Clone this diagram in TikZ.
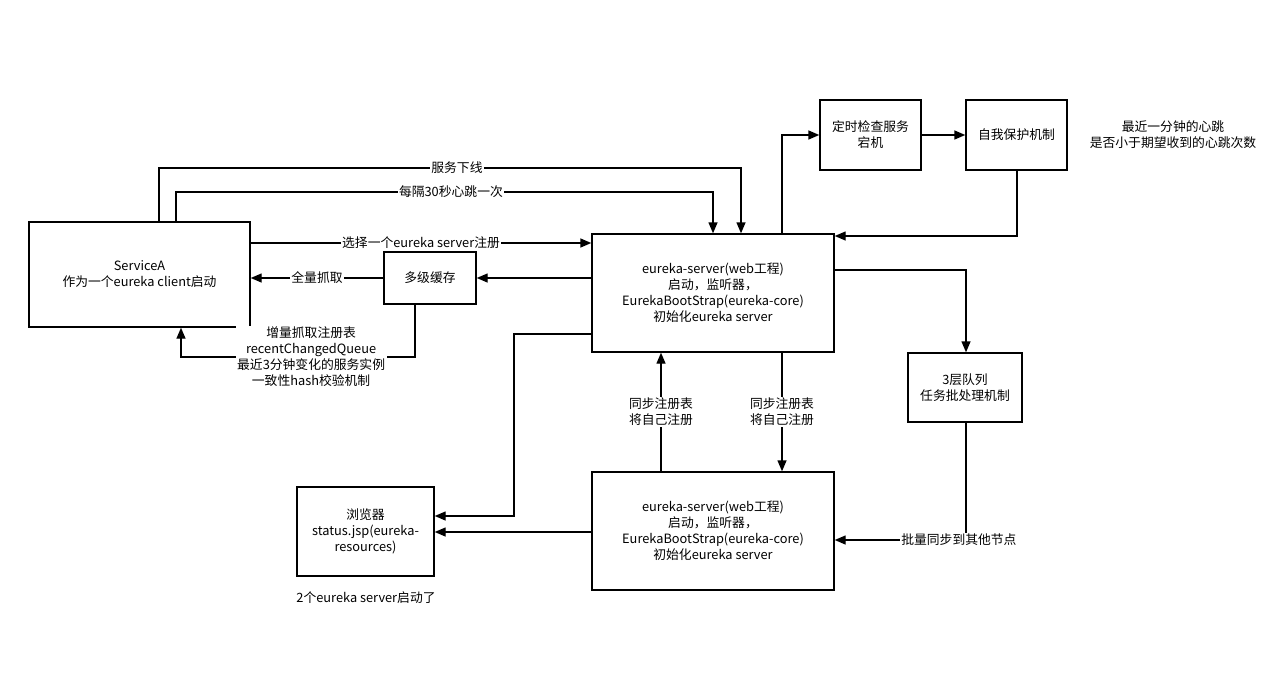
\documentclass[tikz,border=0pt]{standalone}
\usepackage{fontspec}
\setmainfont{Noto Sans CJK SC}
\usetikzlibrary{arrows.meta}
\begin{document}
\begin{tikzpicture}[x=1pt,y=-1pt,
  txt/.style={font={\fontsize{12.8}{16}\selectfont}, align=center},
  box/.style={txt, draw, line width=1.4pt, inner sep=0pt},
  conn/.style={draw, line width=1.4pt, -{Triangle[length=11pt,width=9pt]}},
  lbl/.style={txt, fill=white, inner sep=1.5pt}
]
\useasboundingbox (0,0) rectangle (1274,693);
\fill[white] (0,0) rectangle (1274,693);

\node[box, minimum width=221pt, minimum height=105pt] (sa) at (139.5,274.5) {ServiceA\\作为一个eureka client启动};
\node[box, minimum width=92pt, minimum height=52pt] (cache) at (430,278) {多级缓存};
\node[box, minimum width=242pt, minimum height=118pt] (es1) at (713,293) {eureka-server(web工程)\\启动，监听器，\\EurekaBootStrap(eureka-core)\\初始化eureka server};
\node[box, minimum width=101pt, minimum height=70pt] (def) at (870.5,135) {定时检查服务\\宕机};
\node[box, minimum width=101pt, minimum height=70pt] (self) at (1016.5,135) {自我保护机制};
\node[txt] (note) at (1173,135) {最近一分钟的心跳\\是否小于期望收到的心跳次数};
\node[box, minimum width=114pt, minimum height=69pt] (q3) at (965,387.5) {3层队列\\任务批处理机制};
\node[box, minimum width=137pt, minimum height=89pt] (br) at (365.5,531.5) {浏览器\\status.jsp(eureka-\\resources)};
\node[box, minimum width=242pt, minimum height=118pt] (es2) at (713,531) {eureka-server(web工程)\\启动，监听器，\\EurekaBootStrap(eureka-core)\\初始化eureka server};
\node[txt] (cap) at (366,598) {2个eureka server启动了};

% client -> server
\draw[conn] (sa.north -| 159,0) -- (159,168) -| node[lbl,pos=0.256]{服务下线} (es1.north -| 741,0);
\draw[conn] (sa.north -| 176,0) -- (176,192) -| node[lbl,pos=0.256]{每隔30秒心跳一次} (es1.north -| 713,0);
\draw[conn] (sa.east |- 0,243) -- node[lbl]{选择一个eureka server注册} (es1.west |- 0,243);
\draw[conn] (es1.west |- cache.east) -- (cache.east);
\draw[conn] (cache.west) -- node[lbl]{全量抓取} (sa.east |- cache.west);
\draw[conn] (cache.south -| 415,0) -- (415,357) -| node[lbl,pos=0.222]{增量抓取注册表\\recentChangedQueue\\最近3分钟变化的服务实例\\一致性hash校验机制} (sa.south -| 181,0);

% server side
\draw[conn] (es1.north -| 782,0) |- (def.west);
\draw[conn] (def.east) -- (self.west);
\draw[conn] (self.south -| 1017,0) |- (es1.east |- 0,236);
\draw[conn] (es1.east |- 0,270) -| (q3.north -| 966,0);
\draw[conn] (q3.south -| 966,0) |- node[lbl,pos=0.527]{批量同步到其他节点} (es2.east |- 0,540);
\draw[conn] (es2.north -| 661,0) -- node[lbl]{同步注册表\\将自己注册} (es1.south -| 661,0);
\draw[conn] (es1.south -| 782,0) -- node[lbl]{同步注册表\\将自己注册} (es2.north -| 782,0);
\draw[conn] (es1.west |- 0,334) -- (514,334) |- (br.east |- 0,516);
\draw[conn] (es2.west |- 0,532) -- (br.east |- 0,532);
\end{tikzpicture}
\end{document}
